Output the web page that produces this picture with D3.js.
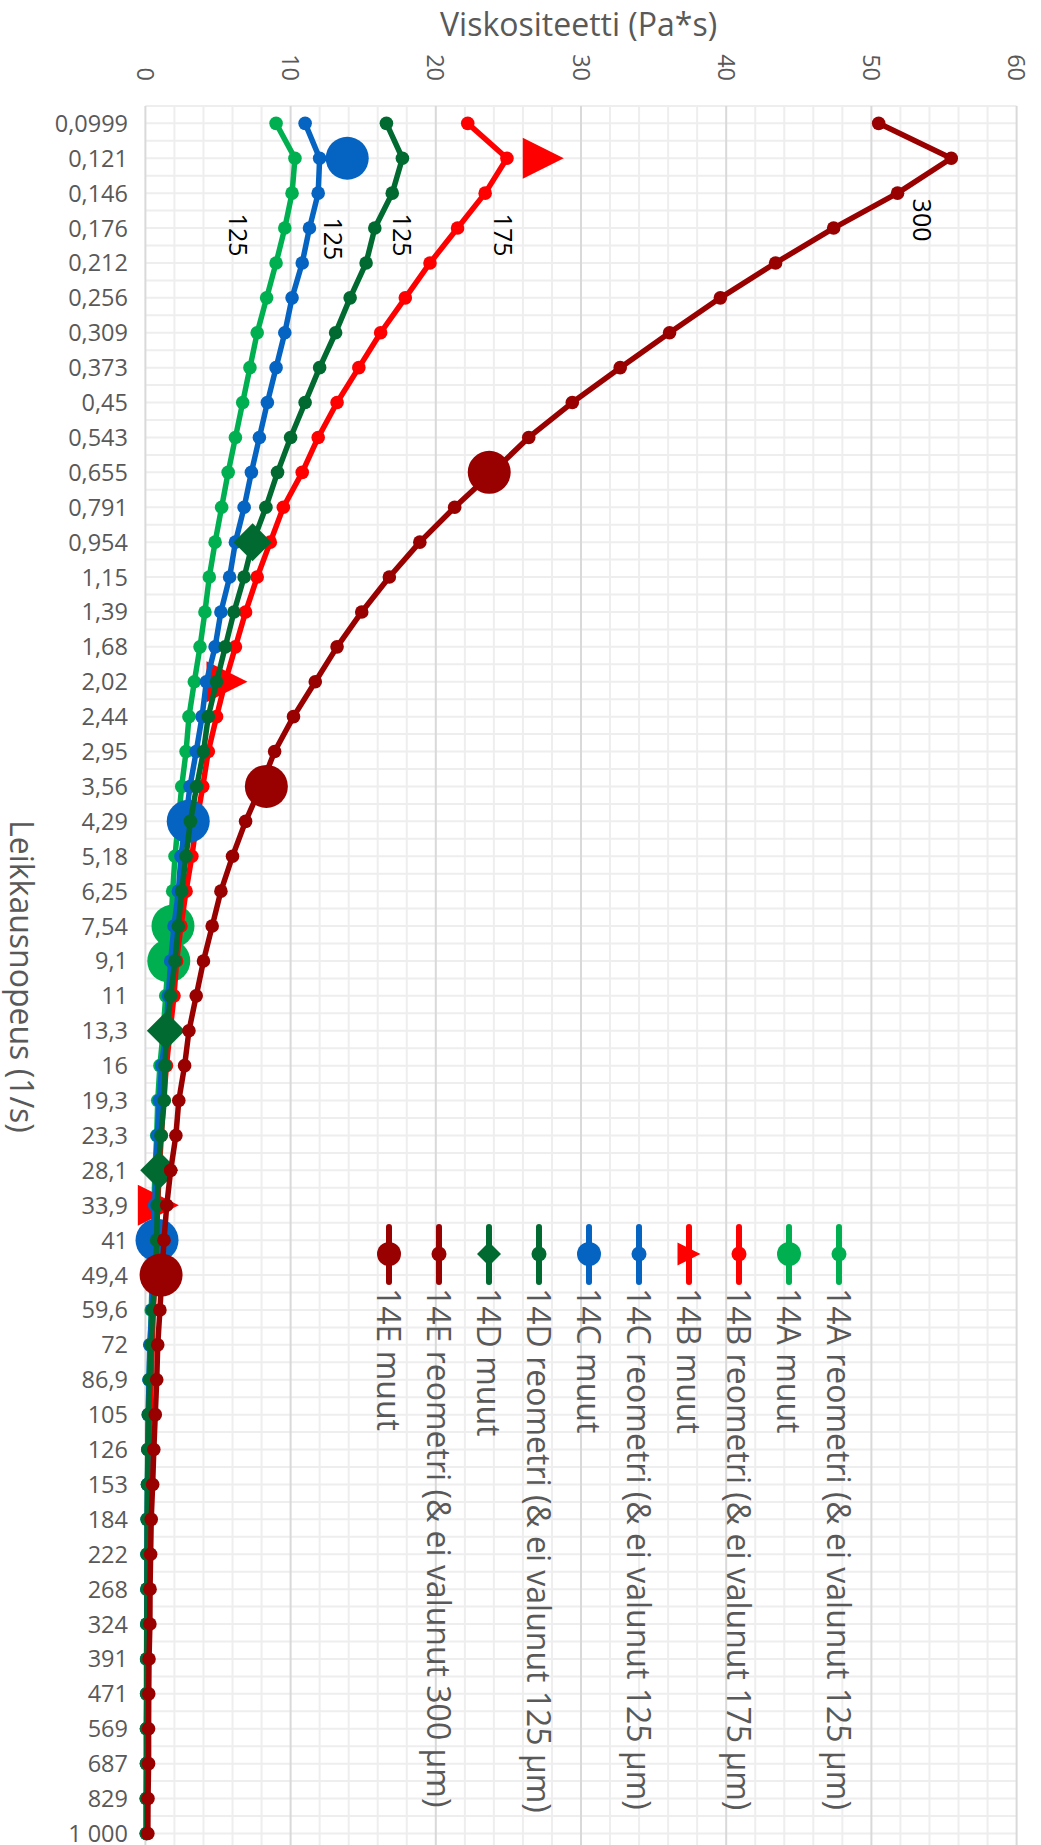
<!DOCTYPE html>
<html>
<head>
<meta charset="utf-8">
<script src="https://cdn.jsdelivr.net/npm/d3@7"></script>
<style>
  html, body { margin: 0; padding: 0; background: #ffffff; }
  svg { display: block; font-family: "Open Sans", sans-serif; }
</style>
</head>
<body>
<svg id="chart" width="1041" height="1845"></svg>
<script>
// Shear rates (1/s), used as category labels
const shearRates = ["0,0999","0,121","0,146","0,176","0,212","0,256","0,309","0,373","0,45","0,543",
  "0,655","0,791","0,954","1,15","1,39","1,68","2,02","2,44","2,95","3,56",
  "4,29","5,18","6,25","7,54","9,1","11","13,3","16","19,3","23,3",
  "28,1","33,9","41","49,4","59,6","72","86,9","105","126","153",
  "184","222","268","324","391","471","569","687","829","1 000"];

const viscosityTicks = [0, 10, 20, 30, 40, 50, 60];

// Rheometer viscosity (Pa*s) per shear rate
const rheo14A = [9.0,10.3,10.1,9.6,9.0,8.35,7.7,7.2,6.7,6.2,5.7,5.25,4.8,4.4,4.1,3.76,3.37,3.0,2.8,2.5,
  2.27,2.04,1.88,1.75,1.58,1.4,1.23,1.0,0.85,0.78,0.66,0.59,0.53,0.48,0.4,0.33,0.25,0.2,0.16,0.14,
  0.12,0.11,0.1,0.09,0.08,0.08,0.07,0.07,0.06,0.06];
const rheo14B = [22.2,24.9,23.4,21.5,19.6,17.9,16.2,14.7,13.2,11.9,10.8,9.5,8.6,7.7,6.9,6.2,5.5,4.9,4.33,3.95,
  3.53,3.2,2.8,2.45,2.15,1.97,1.7,1.45,1.25,1.1,0.95,0.85,0.75,0.65,0.55,0.47,0.4,0.33,0.28,0.24,
  0.2,0.17,0.15,0.13,0.12,0.11,0.1,0.09,0.09,0.08];
const rheo14C = [11.0,12.0,11.9,11.3,10.8,10.1,9.6,9.0,8.4,7.85,7.3,6.8,6.2,5.8,5.2,4.8,4.2,3.9,3.5,3.07,
  2.76,2.45,2.27,1.97,1.74,1.58,1.42,1.12,0.96,0.82,0.73,0.64,0.59,0.5,0.45,0.3,0.25,0.2,0.17,0.15,
  0.13,0.12,0.11,0.1,0.09,0.09,0.08,0.08,0.07,0.07];
const rheo14D = [16.6,17.7,17.0,15.8,15.2,14.1,13.1,12.0,11.0,10.0,9.1,8.3,7.4,6.8,6.1,5.5,4.9,4.33,4.0,3.53,
  3.1,2.8,2.5,2.27,2.04,1.74,1.47,1.35,1.3,1.07,0.89,0.82,0.78,0.7,0.5,0.4,0.3,0.22,0.18,0.15,
  0.13,0.12,0.11,0.1,0.09,0.09,0.08,0.08,0.07,0.07];
const rheo14E = [50.5,55.5,51.8,47.4,43.4,39.6,36.1,32.7,29.4,26.4,23.9,21.3,18.9,16.8,14.9,13.2,11.7,10.2,8.9,7.95,
  6.9,6.0,5.2,4.6,4.0,3.5,3.0,2.7,2.3,2.1,1.74,1.47,1.28,1.14,1.0,0.85,0.78,0.68,0.58,0.5,
  0.4,0.36,0.32,0.31,0.25,0.23,0.22,0.22,0.18,0.17];

// Other measurements ("muut"): [shear rate, viscosity]
const other14A = [["7,54", 1.9], ["9,1", 1.61]];
const other14B = [["0,121", 27.4], ["2,02", 5.62], ["33,9", 0.89]];
const other14C = [["0,121", 13.9], ["4,29", 2.95], ["41", 0.8]];
const other14D = [["0,954", 7.38], ["13,3", 1.41], ["28,1", 0.95]];
const other14E = [["0,655", 23.68], ["3,56", 8.33], ["49,4", 1.08]];

// Particle size labels: [text, shear-rate position (index), viscosity position]
const sizeLabels = [["125", 3.2, 6.38], ["125", 3.31, 12.9], ["125", 3.2, 17.67], ["175", 3.2, 24.6], ["300", 2.77, 53.48]];

const seriesLabels = ["14A reometri (& ei valunut 125 µm)", "14A muut",
  "14B reometri (& ei valunut 175 µm)", "14B muut",
  "14C reometri (& ei valunut 125 µm)", "14C muut",
  "14D reometri (& ei valunut 125 µm)", "14D muut",
  "14E reometri (& ei valunut 300 µm)", "14E muut"];

const colors = { A: "#00b050", B: "#ff0000", C: "#0563c1", D: "#006a30", E: "#990000" };

const series = [
  { name: seriesLabels[0], color: colors.A, type: "line", values: rheo14A },
  { name: seriesLabels[1], color: colors.A, type: "points", shape: "circle", values: other14A },
  { name: seriesLabels[2], color: colors.B, type: "line", values: rheo14B },
  { name: seriesLabels[3], color: colors.B, type: "points", shape: "triangle", values: other14B },
  { name: seriesLabels[4], color: colors.C, type: "line", values: rheo14C },
  { name: seriesLabels[5], color: colors.C, type: "points", shape: "circle", values: other14C },
  { name: seriesLabels[6], color: colors.D, type: "line", values: rheo14D },
  { name: seriesLabels[7], color: colors.D, type: "points", shape: "diamond", values: other14D },
  { name: seriesLabels[8], color: colors.E, type: "line", values: rheo14E },
  { name: seriesLabels[9], color: colors.E, type: "points", shape: "circle", values: other14E }
];

const svg = d3.select("#chart");
const W = 1041, H = 1845;
const plot = { left: 145.4, right: 1016.6, top: 105.9 };
const step = 34.9;

// Value axis runs left to right; shear-rate categories run top to bottom
const x = d3.scaleLinear().domain([0, 60]).range([plot.left, plot.right]);
const y = d3.scalePoint().domain(shearRates).range([plot.top + step / 2, plot.top + step / 2 + step * (shearRates.length - 1)]);
const yIdx = d3.scaleLinear().domain([0, shearRates.length - 1]).range(y.range());

const textGrey = "#595959";

// Gridlines
const grid = svg.append("g");
const hLines = d3.range(plot.top, H + 1, step / 2);
grid.selectAll("line.h").data(hLines).join("line")
  .attr("x1", plot.left).attr("x2", plot.right)
  .attr("y1", d => d).attr("y2", d => d)
  .attr("stroke", "#eeeeee").attr("stroke-width", 2);
grid.selectAll("line.minor").data(d3.range(0, 61, 2).filter(v => v % 10 !== 0)).join("line")
  .attr("x1", d => x(d)).attr("x2", d => x(d))
  .attr("y1", plot.top).attr("y2", H)
  .attr("stroke", "#eeeeee").attr("stroke-width", 2);
grid.selectAll("line.major").data(viscosityTicks).join("line")
  .attr("x1", d => x(d)).attr("x2", d => x(d))
  .attr("y1", plot.top).attr("y2", H)
  .attr("stroke", "#d9d9d9").attr("stroke-width", 2);

// Value tick labels, rotated
svg.append("g").selectAll("text").data(viscosityTicks).join("text")
  .attr("transform", d => `translate(${x(d)},81) rotate(90)`)
  .attr("text-anchor", "end").attr("dy", "0.36em")
  .attr("font-size", 23.5).attr("fill", textGrey)
  .text(d => d);

// Category labels
svg.append("g").selectAll("text").data(shearRates).join("text")
  .attr("x", 128).attr("y", d => y(d)).attr("dy", "0.36em")
  .attr("text-anchor", "end").attr("font-size", 23.5).attr("fill", textGrey)
  .text(d => d);

// Axis titles
svg.append("text").attr("x", 440).attr("y", 36)
  .attr("font-size", 32).attr("fill", textGrey)
  .text("Viskositeetti (Pa*s)");
svg.append("text").attr("transform", "translate(21.5,820) rotate(90)")
  .attr("dy", "0.36em").attr("font-size", 32).attr("fill", textGrey)
  .text("Leikkausnopeus  (1/s)");

// Marker shapes
function shapePath(shape, cx, cy, s) {
  if (shape === "diamond") return `M${cx - s},${cy}L${cx},${cy - s}L${cx + s},${cy}L${cx},${cy + s}Z`;
  if (shape === "triangle") return `M${cx - s},${cy - s}L${cx + s},${cy}L${cx - s},${cy + s}Z`;
  return `M${cx - s},${cy}a${s},${s} 0 1,0 ${2 * s},0a${s},${s} 0 1,0 ${-2 * s},0Z`;
}
const bigSize = { circle: 21.5, diamond: 19, triangle: 20.5 };

const line = d3.line().x(d => x(d[1])).y(d => y(d[0]));

const marks = svg.append("g");
series.forEach(s => {
  const g = marks.append("g");
  if (s.type === "line") {
    const pts = shearRates.map((c, i) => [c, s.values[i]]);
    g.append("path").attr("d", line(pts))
      .attr("fill", "none").attr("stroke", s.color)
      .attr("stroke-width", 5.5).attr("stroke-linejoin", "round");
    g.selectAll("circle").data(pts).join("circle")
      .attr("cx", d => x(d[1])).attr("cy", d => y(d[0])).attr("r", 6.8)
      .attr("fill", s.color);
  } else {
    g.selectAll("path").data(s.values).join("path")
      .attr("d", d => shapePath(s.shape, x(d[1]), y(d[0]), bigSize[s.shape]))
      .attr("fill", s.color);
  }
});

// Particle size labels
svg.append("g").selectAll("text").data(sizeLabels).join("text")
  .attr("transform", d => `translate(${x(d[2])},${yIdx(d[1])}) rotate(90)`)
  .attr("text-anchor", "middle").attr("dy", "0.36em")
  .attr("font-size", 25).attr("fill", "#000000")
  .text(d => d[0]);

// Legend: entries in reverse series order, rotated text
const legendItems = series.slice().reverse();
const legendX = d3.scalePoint().domain(legendItems.map(d => d.name)).range([389, 839]);
const legendSize = { circle: 12, diamond: 12, triangle: 11.5 };
const lg = svg.append("g");
legendItems.forEach(s => {
  const cx = legendX(s.name);
  const g = lg.append("g");
  g.append("line").attr("x1", cx).attr("x2", cx).attr("y1", 1227).attr("y2", 1282)
    .attr("stroke", s.color).attr("stroke-width", 6).attr("stroke-linecap", "round");
  if (s.type === "line") {
    g.append("circle").attr("cx", cx).attr("cy", 1254).attr("r", 7.5).attr("fill", s.color);
  } else {
    g.append("path").attr("d", shapePath(s.shape, cx, 1254, legendSize[s.shape])).attr("fill", s.color);
  }
  g.append("text").attr("transform", `translate(${cx},1288) rotate(90)`)
    .attr("dy", "0.36em").attr("font-size", 32).attr("fill", textGrey)
    .text(s.name);
});
</script>
</body>
</html>
